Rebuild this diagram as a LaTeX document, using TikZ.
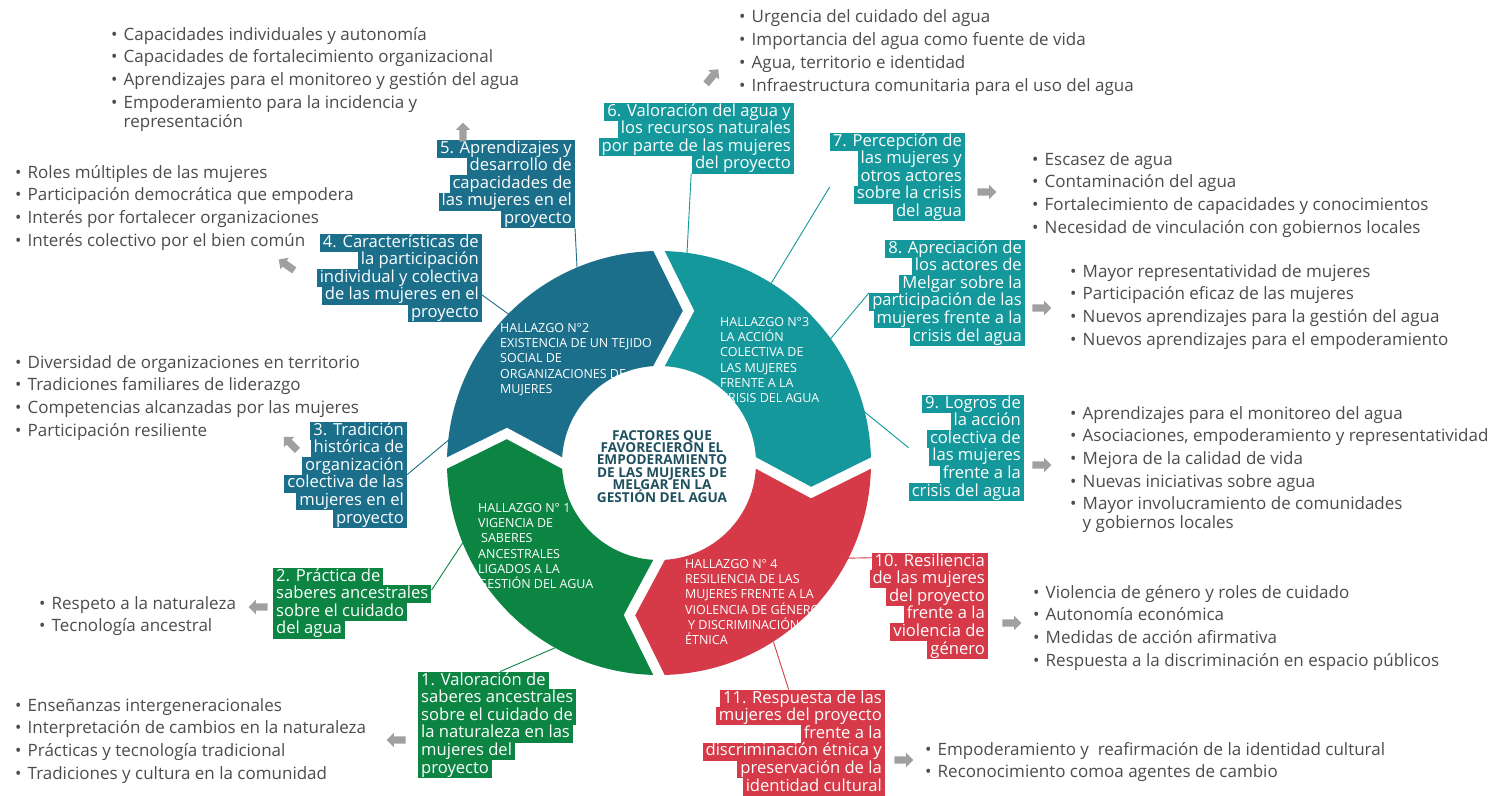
\documentclass[tikz,border=0pt]{standalone}
\usepackage{fontspec}
\setmainfont{Open Sans}
\usetikzlibrary{shapes.arrows,calc}
\definecolor{blueC}{RGB}{28,111,139}
\definecolor{tealC}{RGB}{20,152,155}
\definecolor{greenC}{RGB}{12,133,67}
\definecolor{redC}{RGB}{214,58,72}
\definecolor{arrowC}{RGB}{160,160,160}
\definecolor{listC}{RGB}{76,76,76}
\definecolor{centerC}{RGB}{30,80,95}
\setlength\fboxsep{0pt}
\newcommand\LinesL[2]{\vtop{\baselineskip=#1\relax\lineskiplimit=-100pt\lineskip=0pt\halign{##\hfil\cr#2\crcr}}}
\newcommand\LinesR[2]{\vtop{\baselineskip=#1\relax\lineskiplimit=-100pt\lineskip=0pt\halign{\hfil##\cr#2\crcr}}}
\newcommand\LinesC[2]{\vtop{\baselineskip=#1\relax\lineskiplimit=-100pt\lineskip=0pt\halign{\hfil##\hfil\cr#2\crcr}}}
\newcommand\hl[1]{\colorbox{bc}{\rule[-4.7pt]{0pt}{17.9pt}\hspace{3pt}#1\hspace{3pt}}}
\newcommand\bitem[1]{\makebox[12.5pt][l]{•}#1}
\newcommand\bcont[1]{\hspace*{12.5pt}#1}
\begin{document}
\begin{tikzpicture}[x=1pt,y=1pt,
  hbox/.style={inner sep=0pt, font=\fontsize{16.6}{17.6}\selectfont, text=white},
  blist/.style={inner sep=0pt, anchor=base west, font=\fontsize{17}{22.7}\selectfont, text=listC},
  hall/.style={inner sep=0pt, anchor=base west, font=\fontsize{12.5}{15.2}\selectfont, text=white},
  conn/.style={line width=0.9pt},
  garrow/.style={single arrow, fill=arrowC, draw=none, minimum height=19pt, inner sep=3.5pt, single arrow head extend=3.5pt},
  gapline/.style={white, line width=10pt, line join=miter, line cap=butt}]
\useasboundingbox (0,0) rectangle (1498,-795);
\fill[white] (0,0) rectangle (1498,-795);

% ---------- boxes ----------
\node[hbox, anchor=base west] (b1) at (418,-685) {\colorlet{bc}{greenC}\LinesL{17.6pt}{\hl{1. Valoración de}\cr\hl{saberes ancestrales}\cr\hl{sobre el cuidado de}\cr\hl{la naturaleza en las}\cr\hl{mujeres del}\cr\hl{proyecto}\cr}};
\node[hbox, anchor=base west] (b2) at (273,-581) {\colorlet{bc}{greenC}\LinesL{17.6pt}{\hl{2. Práctica de}\cr\hl{saberes ancestrales}\cr\hl{sobre el cuidado}\cr\hl{del agua}\cr}};
\node[hbox, anchor=base east] (b3) at (407,-435) {\colorlet{bc}{blueC}\LinesR{17.6pt}{\hl{3. Tradición}\cr\hl{histórica de}\cr\hl{organización}\cr\hl{colectiva de las}\cr\hl{mujeres en el}\cr\hl{proyecto}\cr}};
\node[hbox, anchor=base east] (b4) at (482,-247) {\colorlet{bc}{blueC}\LinesR{17.6pt}{\hl{4. Características de}\cr\hl{la participación}\cr\hl{individual y colectiva}\cr\hl{de las mujeres en el}\cr\hl{proyecto}\cr}};
\node[hbox, anchor=base east] (b5) at (575,-153) {\colorlet{bc}{blueC}\LinesR{17.6pt}{\hl{5. Aprendizajes y}\cr\hl{desarrollo de}\cr\hl{capacidades de}\cr\hl{las mujeres en el}\cr\hl{proyecto}\cr}};
\node[hbox, anchor=base east] (b6) at (794,-116) {\colorlet{bc}{tealC}\LinesR{17.6pt}{\hl{6. Valoración del agua y}\cr\hl{los recursos naturales}\cr\hl{por parte de las mujeres}\cr\hl{del proyecto}\cr}};
\node[hbox, anchor=base east] (b7) at (965,-146) {\colorlet{bc}{tealC}\LinesR{17.6pt}{\hl{7. Percepción de}\cr\hl{las mujeres y}\cr\hl{otros actores}\cr\hl{sobre la crisis}\cr\hl{del agua}\cr}};
\node[hbox, anchor=base east] (b8) at (1025,-253) {\colorlet{bc}{tealC}\LinesR{17.6pt}{\hl{8. Apreciación de}\cr\hl{los actores de}\cr\hl{Melgar sobre la}\cr\hl{participación de las}\cr\hl{mujeres frente a la}\cr\hl{crisis del agua}\cr}};
\node[hbox, anchor=base east] (b9) at (1024,-408) {\colorlet{bc}{tealC}\LinesR{17.6pt}{\hl{9. Logros de}\cr\hl{la acción}\cr\hl{colectiva de}\cr\hl{las mujeres}\cr\hl{frente a la}\cr\hl{crisis del agua}\cr}};
\node[hbox, anchor=base east] (b10) at (988,-566) {\colorlet{bc}{redC}\LinesR{17.6pt}{\hl{10. Resiliencia}\cr\hl{de las mujeres}\cr\hl{del proyecto}\cr\hl{frente a la}\cr\hl{violencia de}\cr\hl{género}\cr}};
\node[hbox, anchor=base east] (b11) at (885,-703) {\colorlet{bc}{redC}\LinesR{17.6pt}{\hl{11. Respuesta de las}\cr\hl{mujeres del proyecto}\cr\hl{frente a la}\cr\hl{discriminación étnica y}\cr\hl{preservación de la}\cr\hl{identidad cultural}\cr}};

% ---------- ring attachment points ----------
\coordinate (C) at (659,-463);
\coordinate (r1) at (543,-653);
\coordinate (r2) at (460,-547);
\coordinate (r3) at (445,-443);
\coordinate (r4) at (507,-313);
\coordinate (r5) at (577,-267);
\coordinate (r6) at (687,-253);
\coordinate (r7) at (772,-282);
\coordinate (r8) at (832,-337);
\coordinate (r9) at (872,-418);
\coordinate (r10) at (857,-558);
\coordinate (r11) at (777,-653);

% ---------- connectors ----------
\draw[conn, greenC] ([xshift=82pt]b1.north west) -- ($([xshift=82pt]b1.north west)!1.3!(r1)$);
\draw[conn, greenC] ([yshift=13pt]b2.east) -- ($([yshift=13pt]b2.east)!1.3!(r2)$);
\draw[conn, blueC] (b3.east) -- ($(b3.east)!1.3!(r3)$);
\draw[conn, blueC] ([yshift=-17pt]b4.east) -- ($([yshift=-17pt]b4.east)!1.3!(r4)$);
\draw[conn, blueC] (b5.south east) -- ($(b5.south east)!1.3!(r5)$);
\draw[conn, tealC] ([xshift=-5pt]b6.south) -- ($([xshift=-5pt]b6.south)!1.2!(r6)$);
\draw[conn, tealC] ([yshift=-10pt]b7.west) -- ($([yshift=-10pt]b7.west)!1.15!(r7)$);
\draw[conn, tealC] (b8.west) -- ($(b8.west)!1.25!(r8)$);
\draw[conn, tealC] (b9.west) -- ($(b9.west)!1.3!(r9)$);
\draw[conn, redC] ([shift={(7pt,-5pt)}]b10.north west) -- ($([shift={(7pt,-5pt)}]b10.north west)!1.5!(r10)$);
\draw[conn, redC] ([xshift=-5pt]b11.north) -- ($([xshift=-5pt]b11.north)!1.3!(r11)$);

% ---------- ring ----------
\foreach \a/\b/\col in {180/90/blueC, 90/0/tealC, 0/-90/redC, 270/180/greenC}{
  \fill[\col] ($(C)+(\a:212)$) arc[start angle=\a, end angle=\b, radius=212]
    -- ($(C)+(\b-11:155)$) -- ($(C)+(\b:97)$)
    arc[start angle=\b, end angle=\a, radius=97]
    -- ($(C)+(\a-11:155)$) -- cycle;
}
\foreach \a in {0,90,180,270}{
  \coordinate (go) at ($(C)+(\a:212)$);
  \coordinate (gm) at ($(C)+(\a-11:155)$);
  \coordinate (gi) at ($(C)+(\a:97)$);
  \draw[gapline] ($(go)!-0.2!(gm)$) -- (gm) -- ($(gi)!-0.2!(gm)$);
}

% ---------- ring texts ----------
\node[inner sep=0pt, anchor=base, font=\fontsize{13.6}{12.4}\bfseries, text=centerC] (ctr) at (662,-440)
  {\LinesC{12.4pt}{FACTORES QUE\cr FAVORECIERON EL\cr EMPODERAMIENTO\cr DE LAS MUJERES DE\cr MELGAR EN LA\cr GESTIÓN DEL AGUA\cr}};
\node[hall] (h2) at (500,-332.5) {\LinesL{15.2pt}{HALLAZGO N°2\cr EXISTENCIA DE UN TEJIDO\cr SOCIAL DE\cr ORGANIZACIONES DE\cr MUJERES\cr}};
\node[hall] (h3) at (720,-326.5) {\LinesL{15.2pt}{HALLAZGO N°3\cr LA ACCIÓN\cr COLECTIVA DE\cr LAS MUJERES\cr FRENTE A LA\cr CRISIS DEL AGUA\cr}};
\node[hall] (h1) at (478,-512.5) {\LinesL{15.2pt}{HALLAZGO N° 1\cr VIGENCIA DE\cr \hspace{3pt}SABERES\cr ANCESTRALES\cr LIGADOS A LA\cr GESTIÓN DEL AGUA\cr}};
\node[hall] (h4) at (685,-568.5) {\LinesL{15.2pt}{HALLAZGO N° 4\cr RESILIENCIA DE LAS\cr MUJERES FRENTE A LA\cr VIOLENCIA DE GÉNERO\cr \hspace{3pt}Y DISCRIMINACIÓN\cr ÉTNICA\cr}};

% ---------- arrows ----------
\node[garrow, rotate=180] (a1) at (398,-740) {};
\node[garrow, rotate=180] (a2) at (260,-607) {};
\node[garrow, rotate=135] (a3) at (292,-445) {};
\node[garrow, rotate=145] (a4) at (288,-266) {};
\node[garrow, rotate=90] (a5) at (463,-134) {};
\node[garrow, rotate=50] (a6) at (711,-78) {};
\node[garrow] (a7) at (985,-192) {};
\node[garrow] (a8) at (1040,-308) {};
\node[garrow] (a9) at (1040,-465) {};
\node[garrow] (a10) at (1010,-623) {};
\node[garrow] (a11) at (902,-760) {};

% ---------- bullet lists ----------
\node[blist] (l5) at (111,-40) {\LinesL{22.7pt}{\bitem{Capacidades individuales y autonomía}\cr\bitem{Capacidades de fortalecimiento organizacional}\cr\bitem{Aprendizajes para el monitoreo y gestión del agua}\cr\bitem{Empoderamiento para la incidencia y}\cr\noalign{\vskip-3.7pt}\bcont{representación}\cr}};
\node[blist] (l6) at (739,-23) {\LinesL{22.7pt}{\bitem{Urgencia del cuidado del agua}\cr\bitem{Importancia del agua como fuente de vida}\cr\bitem{Agua, territorio e identidad}\cr\bitem{Infraestructura comunitaria para el uso del agua}\cr}};
\node[blist] (l4) at (15,-178) {\LinesL{22.7pt}{\bitem{Roles múltiples de las mujeres}\cr\bitem{Participación democrática que empodera}\cr\bitem{Interés por fortalecer organizaciones}\cr\bitem{Interés colectivo por el bien común}\cr}};
\node[blist] (l3) at (15,-368) {\LinesL{22.7pt}{\bitem{Diversidad de organizaciones en territorio}\cr\bitem{Tradiciones familiares de liderazgo}\cr\bitem{Competencias alcanzadas por las mujeres}\cr\bitem{Participación resiliente}\cr}};
\node[blist] (l2) at (39,-609) {\LinesL{22.7pt}{\bitem{Respeto a la naturaleza}\cr\bitem{Tecnología ancestral}\cr}};
\node[blist] (l1) at (15,-711) {\LinesL{22.7pt}{\bitem{Enseñanzas intergeneracionales}\cr\bitem{Interpretación de cambios en la naturaleza}\cr\bitem{Prácticas y tecnología tradicional}\cr\bitem{Tradiciones y cultura en la comunidad}\cr}};
\node[blist] (l7) at (1032,-165) {\LinesL{22.7pt}{\bitem{Escasez de agua}\cr\bitem{Contaminación del agua}\cr\bitem{Fortalecimiento de capacidades y conocimientos}\cr\bitem{Necesidad de vinculación con gobiernos locales}\cr}};
\node[blist] (l8) at (1070,-277) {\LinesL{22.7pt}{\bitem{Mayor representatividad de mujeres}\cr\bitem{Participación eficaz de las mujeres}\cr\bitem{Nuevos aprendizajes para la gestión del agua}\cr\bitem{Nuevos aprendizajes para el empoderamiento}\cr}};
\node[blist] (l9) at (1070,-419) {\LinesL{22.7pt}{\bitem{Aprendizajes para el monitoreo del agua}\cr\bitem{Asociaciones, empoderamiento y representatividad}\cr\bitem{Mejora de la calidad de vida}\cr\bitem{Nuevas iniciativas sobre agua}\cr\bitem{Mayor involucramiento de comunidades}\cr\noalign{\vskip-3.7pt}\bcont{y gobiernos locales}\cr}};
\node[blist] (l10) at (1033,-598) {\LinesL{22.7pt}{\bitem{Violencia de género y roles de cuidado}\cr\bitem{Autonomía económica}\cr\bitem{Medidas de acción afirmativa}\cr\bitem{Respuesta a la discriminación en espacio públicos}\cr}};
\node[blist] (l11) at (925,-755) {\LinesL{22.7pt}{\bitem{Empoderamiento y\ \ reafirmación de la identidad cultural}\cr\bitem{Reconocimiento comoa agentes de cambio}\cr}};
\end{tikzpicture}
\end{document}
